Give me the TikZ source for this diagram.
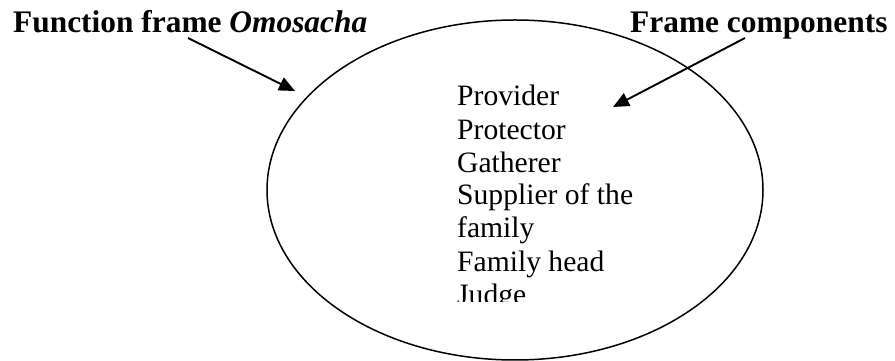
\documentclass[tikz,border=0pt]{standalone}
\usepackage{fontspec}
\setmainfont{Liberation Serif}
\usetikzlibrary{shapes.geometric,arrows.meta}
\begin{document}
\begin{tikzpicture}[x=1pt,y=1pt,
  title/.style={anchor=base west,inner sep=0pt,font=\fontsize{31.4}{34}\selectfont\bfseries},
  item/.style={anchor=base west,inner sep=0pt,font=\fontsize{29.6}{33}\selectfont},
  pointer/.style={line width=1.9pt,-{Triangle[length=16pt,width=14pt]}},
  frameshape/.style={ellipse,draw,line width=1.5pt,minimum width=496pt,minimum height=340pt,inner sep=0pt}]
  \useasboundingbox (0,0) rectangle (895,361);
  % the frame itself
  \node[frameshape] (frame) at (515,171) {};
  % headings
  \node[title] (fname) at (13,328) {Function frame \textit{Omosacha}};
  \node[title] (fcomp) at (630,328) {Frame components};
  % pointers from the headings
  \coordinate (s1) at (188,323);
  \coordinate (t1) at (295,270);
  \coordinate (s2) at (745,323);
  \coordinate (t2) at (613,254);
  \draw[pointer] (s1) -- (t1);
  \draw[pointer] (s2) -- (t2);
  % components listed inside the frame, cut off at the bottom
  \begin{scope}
    \clip (440,59) rectangle (720,345);
    \foreach \n/\yy/\txt in {1/255/Provider, 2/221/Protector, 3/188/Gatherer,
        4/156/Supplier of the, 5/123/family, 6/89/Family head, 7/56/Judge}
      \node[item] (c\n) at (457,\yy) {\txt};
  \end{scope}
\end{tikzpicture}
\end{document}
